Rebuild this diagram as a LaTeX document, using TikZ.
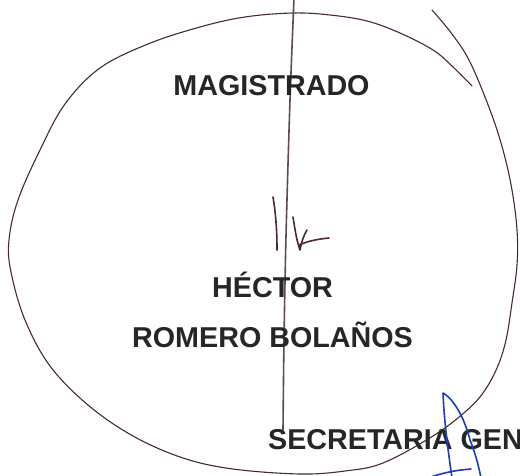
\documentclass[tikz,border=0pt]{standalone}
\usepackage{fontspec}
\setmainfont{Liberation Sans}
\begin{document}
\begin{tikzpicture}[x=1pt,y=-1pt,
  lbl/.style={font=\fontsize{28.7}{32}\selectfont\bfseries, text=black!85, inner sep=0pt},
  pen/.style={draw=penc, line width=1.1pt, line cap=round, line join=round},
  bluepen/.style={draw=bluec, line width=1.6pt, line cap=round, line join=round}]
\definecolor{penc}{RGB}{72,42,48}
\definecolor{bluec}{RGB}{28,62,190}
\definecolor{vline}{RGB}{95,75,80}
\useasboundingbox (0,0) rectangle (520,476);
\fill[white] (0,0) rectangle (520,476);
% big loop
\draw[pen] plot[smooth, tension=0.6] coordinates {
 (472,86) (452,66) (433,50) (400,33) (367,21) (330,15) (293,13) (245,17) (200,27) (148,44) (100,68) (65,104) (40,150) (18,200) (9,240) (11,272) (25,320) (50,366) (88,405) (133,436) (183,458) (233,469) (300,474) (345,471) (383,463) (433,436) (465,412) (483,393) (497,368) (506,340) (512,303) (517,265) (517,230) (512,190) (503,150) (490,110) (470,62) (452,34) (432,10)};
% vertical line
\draw[draw=vline, line width=1.6pt] plot[smooth] coordinates {(294,-2) (290,100) (286,236) (284,340) (283,430)};
% signature scribbles
\draw[pen, line width=1.6pt] (273,197) .. controls (276,215) and (277,232) .. (277,250);
\draw[pen, line width=1.6pt] (293,217) .. controls (295,230) and (297,242) .. (300,250) .. controls (302,240) and (304,235) .. (307,230);
\draw[pen, line width=1.6pt] (299,245) .. controls (308,241) and (318,239) .. (329,238);
% texts
\node[lbl, anchor=base] (mag) at (271.5,96) {MAGISTRADO};
\node[lbl, anchor=base] (hec) at (272.5,298) {HÉCTOR};
\node[lbl, anchor=base] (rom) at (272.5,347) {ROMERO BOLAÑOS};
\node[lbl, anchor=base west] (sec) at (268,449) {SECRETARIA GEN};
% blue mark
\draw[bluepen] (452,478) .. controls (448,450) and (444,420) .. (443,393) .. controls (455,400) and (465,420) .. (470,440) .. controls (476,455) and (479,468) .. (481,478);
\draw[bluepen] (428,478) .. controls (445,472) and (458,470) .. (471,469);
\end{tikzpicture}
\end{document}
